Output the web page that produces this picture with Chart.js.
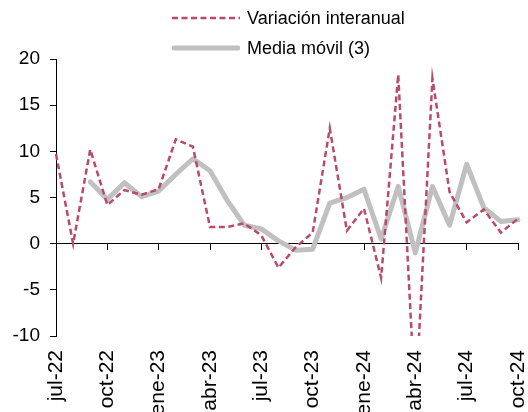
<!DOCTYPE html>
<html><head><meta charset="utf-8">
<script src="https://cdn.jsdelivr.net/npm/chart.js@4/dist/chart.umd.min.js"></script>
<style>
html,body{margin:0;padding:0;background:#fff;}
#wrap{position:relative;width:528px;height:412px;overflow:hidden;}
canvas{position:absolute;left:0;top:0;}
.leg{position:absolute;left:172px;height:20px;display:flex;align-items:center;font:18px "Liberation Sans",Arial,sans-serif;color:#000;white-space:nowrap;}
.leg svg{margin-right:7px;display:block;}
</style></head><body>
<div id="wrap">
<canvas id="c" width="528" height="412"></canvas>
<div class="leg" style="top:8px"><svg width="68" height="6"><line x1="0" y1="3" x2="68" y2="3" stroke="#B94A6B" stroke-width="2.5" stroke-dasharray="6 3.5"/></svg><span>Variación interanual</span></div>
<div class="leg" style="top:38px"><svg width="68" height="8"><line x1="2" y1="4" x2="66" y2="4" stroke="#C0C0C0" stroke-width="5" stroke-linecap="round"/></svg><span>Media móvil (3)</span></div>
</div>
<script>
const months = ['jul-22','ago-22','sep-22','oct-22','nov-22','dic-22','ene-23','feb-23','mar-23','abr-23','may-23','jun-23',
  'jul-23','ago-23','sep-23','oct-23','nov-23','dic-23','ene-24','feb-24','mar-24','abr-24','may-24','jun-24','jul-24','ago-24','sep-24','oct-24'];
const variacionInteranual = [9.7, 0.0, 10.2, 4.2, 5.8, 5.3, 5.9, 11.3, 10.5, 1.8, 1.8, 2.2,
  0.9, -2.6, -0.4, 1.2, 12.5, 1.4, 3.8, -3.7, 18.3, -17.6, 17.9, 5.6, 2.3, 3.7, 1.2, 2.7];
const mediaMovil = [null, null, 6.7, 4.8, 6.6, 5.1, 5.7, 7.5, 9.2, 7.9, 4.7, 2.0,
  1.6, 0.3, -0.7, -0.6, 4.4, 5.0, 5.9, 0.5, 6.2, -1.0, 6.2, 2.0, 8.6, 3.9, 2.4, 2.6];
const yTickValues = [-10, -5, 0, 5, 10, 15, 20];
const seriesNames = ['Variación interanual', 'Media móvil (3)'];

const FONT = 'Liberation Sans';
new Chart(document.getElementById('c'), {
  type: 'line',
  data: {
    labels: months,
    datasets: [
      {label: seriesNames[0], data: variacionInteranual, borderColor: '#B94A6B', borderWidth: 2.5,
       borderDash: [6, 3.5], pointRadius: 0, tension: 0, fill: false},
      {label: seriesNames[1], data: mediaMovil, borderColor: '#C0C0C0', borderWidth: 5,
       borderJoinStyle: 'round', borderCapStyle: 'round', pointRadius: 0, tension: 0, fill: false, spanGaps: false}
    ]
  },
  options: {
    responsive: false,
    animation: false,
    layout: {padding: {top: 59, right: 10, left: 0, bottom: 0}},
    plugins: {legend: {display: false}, tooltip: {enabled: false}},
    scales: {
      x: {
        type: 'category', offset: false,
        grid: {display: false, drawTicks: false}, border: {display: false},
        ticks: {
          autoSkip: false, maxRotation: 90, minRotation: 90, padding: 14,
          font: {family: FONT, size: 21}, color: '#000',
          callback: function(v, i) { return i % 3 === 0 ? this.getLabelForValue(v) : ''; }
        },
        afterFit: s => { s.height = 76; s.paddingLeft = 0; s.paddingRight = 0; }
      },
      x0: {
        type: 'category', position: {y: 0}, offset: false,
        grid: {drawOnChartArea: false, drawTicks: true, tickLength: 6, lineWidth: 1,
               color: c => (c.index % 3 === 0 ? '#000' : 'rgba(0,0,0,0)')},
        border: {display: true, color: '#000', width: 1},
        ticks: {display: false},
        afterFit: s => { s.paddingLeft = 0; s.paddingRight = 0; }
      },
      y: {
        min: -10, max: 20,
        afterBuildTicks: s => { s.ticks = yTickValues.map(v => ({value: v})); },
        grid: {drawOnChartArea: false, drawTicks: true, tickLength: 6, color: '#000'},
        border: {display: true, color: '#000', width: 1},
        ticks: {padding: 10, font: {family: FONT, size: 19}, color: '#000'},
        afterFit: s => { s.width = 56; }
      }
    }
  }
});
</script>
</body></html>
